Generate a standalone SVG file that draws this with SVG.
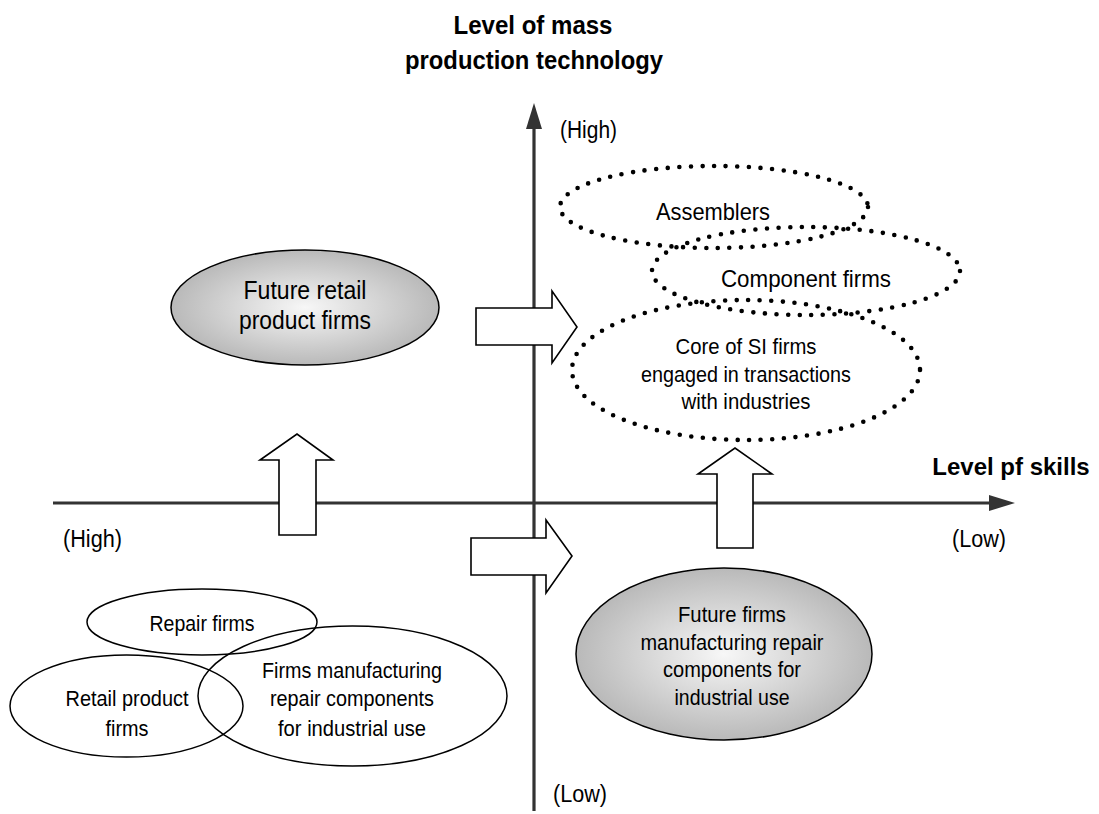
<svg xmlns="http://www.w3.org/2000/svg" width="1099" height="814" viewBox="0 0 1099 814">
  <style>
    text { font-family: "Liberation Sans", Arial, sans-serif; fill: #000; text-anchor: middle; }
    .lbl { font-size: 22px; }
    .big { font-size: 24px; }
    .ax { font-size: 23px; text-anchor: start; }
    .title { font-size: 26px; font-weight: bold; }
    .axis { stroke: #333; stroke-width: 3.2; fill: none; }
    .head { fill: #333; stroke: none; }
    .plain { fill: none; stroke: #000; stroke-width: 1.5; }
    .shade { fill: url(#shade); stroke: #000; stroke-width: 1.5; }
    .dots { fill: none; stroke: #000; stroke-width: 4.6; stroke-linecap: round; stroke-dasharray: 0 11.6; }
    .block { fill: #fff; stroke: #000; stroke-width: 1.6; stroke-linejoin: miter; }
  </style>
  <defs>
    <radialGradient id="shade" cx="50%" cy="50%" r="50%">
      <stop offset="0" stop-color="#f7f7f7"/>
      <stop offset="1" stop-color="#b9b9b9"/>
    </radialGradient>
  </defs>

  <rect width="1099" height="814" fill="#fff"/>

  <!-- axes -->
  <g id="axes">
    <line class="axis" x1="534" y1="811" x2="534" y2="127"/>
    <polygon class="head" points="534,103 526,129 542,129"/>
    <line class="axis" x1="53" y1="503" x2="991" y2="503"/>
    <polygon class="head" points="1015,503 989,495 989,511"/>
    <text class="title" x="533" y="34" textLength="159" lengthAdjust="spacingAndGlyphs">Level of mass</text>
    <text class="title" x="534" y="69" textLength="258" lengthAdjust="spacingAndGlyphs">production technology</text>
    <text class="title" x="1011" y="475" style="font-size:24px">Level pf skills</text>
    <text class="ax" x="560" y="138" textLength="57" lengthAdjust="spacingAndGlyphs">(High)</text>
    <text class="ax" x="63" y="547" textLength="59" lengthAdjust="spacingAndGlyphs">(High)</text>
    <text class="ax" x="952" y="547" textLength="54" lengthAdjust="spacingAndGlyphs">(Low)</text>
    <text class="ax" x="553" y="802" textLength="54" lengthAdjust="spacingAndGlyphs">(Low)</text>
  </g>

  <!-- upper-right cluster (dotted) -->
  <g id="assemblers">
    <ellipse class="dots" cx="714" cy="207" rx="154" ry="41"/>
    <text class="big" x="713" y="220" textLength="114" lengthAdjust="spacingAndGlyphs">Assemblers</text>
  </g>
  <g id="component-firms">
    <ellipse class="dots" cx="806" cy="271" rx="154" ry="44"/>
    <text class="big" x="806" y="287" textLength="170" lengthAdjust="spacingAndGlyphs">Component firms</text>
  </g>
  <g id="core-si-firms">
    <ellipse class="dots" cx="746" cy="370" rx="174" ry="70"/>
    <text class="lbl" x="746" y="354" textLength="141" lengthAdjust="spacingAndGlyphs">Core of SI firms</text>
    <text class="lbl" x="746" y="382" textLength="210" lengthAdjust="spacingAndGlyphs">engaged in transactions</text>
    <text class="lbl" x="746" y="409" textLength="129" lengthAdjust="spacingAndGlyphs">with industries</text>
  </g>

  <!-- future groups (shaded) -->
  <g id="future-retail">
    <ellipse class="shade" cx="305" cy="307.5" rx="134" ry="57.5"/>
    <text class="big" x="305" y="299" style="font-size:25px" textLength="123" lengthAdjust="spacingAndGlyphs">Future retail</text>
    <text class="big" x="305" y="329" style="font-size:25px" textLength="132" lengthAdjust="spacingAndGlyphs">product firms</text>
  </g>
  <g id="future-manufacturing">
    <ellipse class="shade" cx="724" cy="654" rx="148" ry="86"/>
    <text class="lbl" x="732" y="622" textLength="108" lengthAdjust="spacingAndGlyphs">Future firms</text>
    <text class="lbl" x="732" y="650" textLength="183" lengthAdjust="spacingAndGlyphs">manufacturing repair</text>
    <text class="lbl" x="732" y="677" textLength="138" lengthAdjust="spacingAndGlyphs">components for</text>
    <text class="lbl" x="732" y="705" textLength="115" lengthAdjust="spacingAndGlyphs">industrial use</text>
  </g>

  <!-- current groups (outlined) -->
  <g id="repair-firms">
    <ellipse class="plain" cx="202" cy="622" rx="115" ry="33"/>
    <text class="lbl" x="202" y="631" textLength="105" lengthAdjust="spacingAndGlyphs">Repair firms</text>
  </g>
  <g id="retail-product">
    <ellipse class="plain" cx="126.5" cy="706" rx="116.5" ry="51"/>
    <text class="lbl" x="127" y="706" textLength="123" lengthAdjust="spacingAndGlyphs">Retail product</text>
    <text class="lbl" x="127" y="736" textLength="43" lengthAdjust="spacingAndGlyphs">firms</text>
  </g>
  <g id="manufacturing-repair">
    <ellipse class="plain" cx="352.5" cy="696" rx="154.5" ry="70"/>
    <text class="lbl" x="352" y="678" textLength="180" lengthAdjust="spacingAndGlyphs">Firms manufacturing</text>
    <text class="lbl" x="352" y="706" textLength="164" lengthAdjust="spacingAndGlyphs">repair components</text>
    <text class="lbl" x="352" y="736" textLength="148" lengthAdjust="spacingAndGlyphs">for industrial use</text>
  </g>

  <!-- transition arrows -->
  <g id="connectors">
    <polygon class="block" points="476,308 552,308 552,291 577,327 552,363 552,345 476,345"/>
    <polygon class="block" points="279,535 279,460 260,460 297,434 333,460 316,460 316,535"/>
    <polygon class="block" points="471,538 546,538 546,520 572,556 546,593 546,575 471,575"/>
    <polygon class="block" points="717,548 717,474 698,474 735,448 772,474 753,474 753,548"/>
  </g>
</svg>
